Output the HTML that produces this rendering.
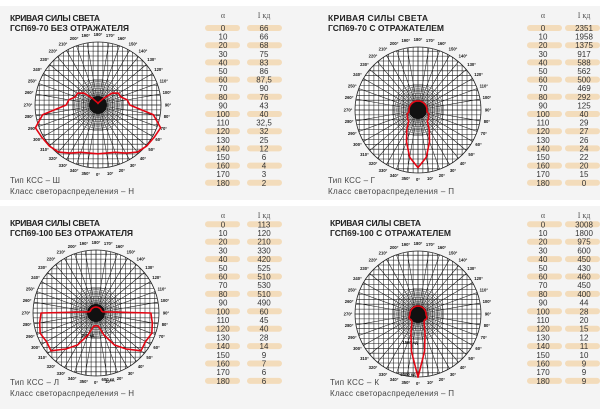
<!DOCTYPE html>
<html><head><meta charset="utf-8"><style>
html,body{margin:0;padding:0;background:#f4f4f4}
svg{display:block}
.t{font-family:"Liberation Sans",sans-serif;font-size:8.5px;fill:#222;font-weight:bold}
.f{font-family:"Liberation Sans",sans-serif;font-size:8px;fill:#444}
.n{font-family:"Liberation Sans",sans-serif;font-size:8px;fill:#333;text-anchor:middle}
.h{font-family:"Liberation Serif",serif;font-size:8px;fill:#555;text-anchor:middle}
.d{font-family:"Liberation Sans",sans-serif;font-size:4.2px;fill:#111;text-anchor:middle;font-weight:bold}
</style></head><body>
<svg id="s" width="600" height="409" viewBox="0 0 600 409" xmlns="http://www.w3.org/2000/svg">
<rect x="0" y="0" width="600" height="409" fill="#f4f4f4"/>
<rect x="0" y="0" width="600" height="6" fill="#fff"/>
<rect x="0" y="200" width="600" height="6" fill="#fff"/>
<g id="bars"></g>
<g id="grids"></g>

<!-- titles -->
<text class="t" x="10" y="21" textLength="90">КРИВАЯ СИЛЫ СВЕТА</text>
<text class="t" x="10" y="31" textLength="119">ГСП69-70 БЕЗ ОТРАЖАТЕЛЯ</text>
<text class="f" x="10" y="183" textLength="50">Тип КСС – Ш</text>
<text class="f" x="10" y="194" textLength="124">Класс светораспределения – Н</text>

<text class="t" x="328" y="21" textLength="100">КРИВАЯ СИЛЫ СВЕТА</text>
<text class="t" x="328" y="31" textLength="116">ГСП69-70 С ОТРАЖАТЕЛЕМ</text>
<text class="f" x="328" y="183" textLength="47">Тип КСС – Г</text>
<text class="f" x="328" y="194" textLength="126">Класс светораспределения – П</text>

<text class="t" x="10" y="226" textLength="90">КРИВАЯ СИЛЫ СВЕТА</text>
<text class="t" x="10" y="236" textLength="123">ГСП69-100 БЕЗ ОТРАЖАТЕЛЯ</text>
<text class="f" x="10" y="385" textLength="49">Тип КСС – Л</text>
<text class="f" x="10" y="396" textLength="124">Класс светораспределения – Н</text>

<text class="t" x="330" y="226" textLength="91">КРИВАЯ СИЛЫ СВЕТА</text>
<text class="t" x="330" y="236" textLength="121">ГСП69-100 С ОТРАЖАТЕЛЕМ</text>
<text class="f" x="330" y="385" textLength="49">Тип КСС – К</text>
<text class="f" x="330" y="396" textLength="124">Класс светораспределения – П</text>

<!-- degree labels (same relative layout for each chart) -->
<g transform="translate(98,105)">
<text class="d" x="0" y="71">0°</text><text class="d" x="12.2" y="70">10°</text><text class="d" x="23.9" y="67">20°</text><text class="d" x="35" y="62">30°</text><text class="d" x="45" y="55">40°</text><text class="d" x="53.6" y="46">50°</text><text class="d" x="60.6" y="36">60°</text><text class="d" x="65.8" y="25">70°</text><text class="d" x="68.9" y="13">80°</text><text class="d" x="70" y="1.5">90°</text><text class="d" x="68.9" y="-11">100°</text><text class="d" x="65.8" y="-22.5">110°</text><text class="d" x="60.6" y="-34">120°</text><text class="d" x="53.6" y="-44">130°</text><text class="d" x="45" y="-52.5">140°</text><text class="d" x="35" y="-59.5">150°</text><text class="d" x="23.9" y="-65">160°</text><text class="d" x="12.2" y="-68">170°</text><text class="d" x="0" y="-69">180°</text><text class="d" x="-12.2" y="-68">190°</text><text class="d" x="-23.9" y="-65">200°</text><text class="d" x="-35" y="-59.5">210°</text><text class="d" x="-45" y="-52.5">220°</text><text class="d" x="-53.6" y="-44">230°</text><text class="d" x="-60.6" y="-34">240°</text><text class="d" x="-65.8" y="-22.5">250°</text><text class="d" x="-68.9" y="-11">260°</text><text class="d" x="-70" y="1.5">270°</text><text class="d" x="-68.9" y="13">280°</text><text class="d" x="-65.8" y="25">290°</text><text class="d" x="-60.6" y="36">300°</text><text class="d" x="-53.6" y="46">310°</text><text class="d" x="-45" y="55">320°</text><text class="d" x="-35" y="62">330°</text><text class="d" x="-23.9" y="67">340°</text><text class="d" x="-12.2" y="70">350°</text>
</g>
<g transform="translate(418,110)">
<text class="d" x="0" y="71">0°</text><text class="d" x="12.2" y="70">10°</text><text class="d" x="23.9" y="67">20°</text><text class="d" x="35" y="62">30°</text><text class="d" x="45" y="55">40°</text><text class="d" x="53.6" y="46">50°</text><text class="d" x="60.6" y="36">60°</text><text class="d" x="65.8" y="25">70°</text><text class="d" x="68.9" y="13">80°</text><text class="d" x="70" y="1.5">90°</text><text class="d" x="68.9" y="-11">100°</text><text class="d" x="65.8" y="-22.5">110°</text><text class="d" x="60.6" y="-34">120°</text><text class="d" x="53.6" y="-44">130°</text><text class="d" x="45" y="-52.5">140°</text><text class="d" x="35" y="-59.5">150°</text><text class="d" x="23.9" y="-65">160°</text><text class="d" x="12.2" y="-68">170°</text><text class="d" x="0" y="-69">180°</text><text class="d" x="-12.2" y="-68">190°</text><text class="d" x="-23.9" y="-65">200°</text><text class="d" x="-35" y="-59.5">210°</text><text class="d" x="-45" y="-52.5">220°</text><text class="d" x="-53.6" y="-44">230°</text><text class="d" x="-60.6" y="-34">240°</text><text class="d" x="-65.8" y="-22.5">250°</text><text class="d" x="-68.9" y="-11">260°</text><text class="d" x="-70" y="1.5">270°</text><text class="d" x="-68.9" y="13">280°</text><text class="d" x="-65.8" y="25">290°</text><text class="d" x="-60.6" y="36">300°</text><text class="d" x="-53.6" y="46">310°</text><text class="d" x="-45" y="55">320°</text><text class="d" x="-35" y="62">330°</text><text class="d" x="-23.9" y="67">340°</text><text class="d" x="-12.2" y="70">350°</text>
</g>
<g transform="translate(96,313)">
<text class="d" x="0" y="71">0°</text><text class="d" x="12.2" y="70">10°</text><text class="d" x="23.9" y="67">20°</text><text class="d" x="35" y="62">30°</text><text class="d" x="45" y="55">40°</text><text class="d" x="53.6" y="46">50°</text><text class="d" x="60.6" y="36">60°</text><text class="d" x="65.8" y="25">70°</text><text class="d" x="68.9" y="13">80°</text><text class="d" x="70" y="1.5">90°</text><text class="d" x="68.9" y="-11">100°</text><text class="d" x="65.8" y="-22.5">110°</text><text class="d" x="60.6" y="-34">120°</text><text class="d" x="53.6" y="-44">130°</text><text class="d" x="45" y="-52.5">140°</text><text class="d" x="35" y="-59.5">150°</text><text class="d" x="23.9" y="-65">160°</text><text class="d" x="12.2" y="-68">170°</text><text class="d" x="0" y="-69">180°</text><text class="d" x="-12.2" y="-68">190°</text><text class="d" x="-23.9" y="-65">200°</text><text class="d" x="-35" y="-59.5">210°</text><text class="d" x="-45" y="-52.5">220°</text><text class="d" x="-53.6" y="-44">230°</text><text class="d" x="-60.6" y="-34">240°</text><text class="d" x="-65.8" y="-22.5">250°</text><text class="d" x="-68.9" y="-11">260°</text><text class="d" x="-70" y="1.5">270°</text><text class="d" x="-68.9" y="13">280°</text><text class="d" x="-65.8" y="25">290°</text><text class="d" x="-60.6" y="36">300°</text><text class="d" x="-53.6" y="46">310°</text><text class="d" x="-45" y="55">320°</text><text class="d" x="-35" y="62">330°</text><text class="d" x="-23.9" y="67">340°</text><text class="d" x="-12.2" y="70">350°</text>
<text class="d" x="-8" y="24">300 кд</text><text class="d" x="12" y="68">600 кд</text>
</g>
<g transform="translate(418,314)">
<text class="d" x="0" y="71">0°</text><text class="d" x="12.2" y="70">10°</text><text class="d" x="23.9" y="67">20°</text><text class="d" x="35" y="62">30°</text><text class="d" x="45" y="55">40°</text><text class="d" x="53.6" y="46">50°</text><text class="d" x="60.6" y="36">60°</text><text class="d" x="65.8" y="25">70°</text><text class="d" x="68.9" y="13">80°</text><text class="d" x="70" y="1.5">90°</text><text class="d" x="68.9" y="-11">100°</text><text class="d" x="65.8" y="-22.5">110°</text><text class="d" x="60.6" y="-34">120°</text><text class="d" x="53.6" y="-44">130°</text><text class="d" x="45" y="-52.5">140°</text><text class="d" x="35" y="-59.5">150°</text><text class="d" x="23.9" y="-65">160°</text><text class="d" x="12.2" y="-68">170°</text><text class="d" x="0" y="-69">180°</text><text class="d" x="-12.2" y="-68">190°</text><text class="d" x="-23.9" y="-65">200°</text><text class="d" x="-35" y="-59.5">210°</text><text class="d" x="-45" y="-52.5">220°</text><text class="d" x="-53.6" y="-44">230°</text><text class="d" x="-60.6" y="-34">240°</text><text class="d" x="-65.8" y="-22.5">250°</text><text class="d" x="-68.9" y="-11">260°</text><text class="d" x="-70" y="1.5">270°</text><text class="d" x="-68.9" y="13">280°</text><text class="d" x="-65.8" y="25">290°</text><text class="d" x="-60.6" y="36">300°</text><text class="d" x="-53.6" y="46">310°</text><text class="d" x="-45" y="55">320°</text><text class="d" x="-35" y="62">330°</text><text class="d" x="-23.9" y="67">340°</text><text class="d" x="-12.2" y="70">350°</text>
<text class="d" x="-8" y="30">1500 кд</text><text class="d" x="-10" y="62">2000 кд</text>
</g>

<!-- tables -->
<g>
<text class="h" x="223" y="18">α</text><text class="h" x="264" y="18">I кд</text>
<text class="n" x="223" y="31">0</text><text class="n" x="264" y="31">66</text>
<text class="n" x="223" y="39.6">10</text><text class="n" x="264" y="39.6">66</text>
<text class="n" x="223" y="48.2">20</text><text class="n" x="264" y="48.2">68</text>
<text class="n" x="223" y="56.8">30</text><text class="n" x="264" y="56.8">75</text>
<text class="n" x="223" y="65.4">40</text><text class="n" x="264" y="65.4">83</text>
<text class="n" x="223" y="74">50</text><text class="n" x="264" y="74">86</text>
<text class="n" x="223" y="82.6">60</text><text class="n" x="264" y="82.6">87,5</text>
<text class="n" x="223" y="91.2">70</text><text class="n" x="264" y="91.2">90</text>
<text class="n" x="223" y="99.8">80</text><text class="n" x="264" y="99.8">76</text>
<text class="n" x="223" y="108.4">90</text><text class="n" x="264" y="108.4">43</text>
<text class="n" x="223" y="117">100</text><text class="n" x="264" y="117">40</text>
<text class="n" x="223" y="125.6">110</text><text class="n" x="264" y="125.6">32,5</text>
<text class="n" x="223" y="134.2">120</text><text class="n" x="264" y="134.2">32</text>
<text class="n" x="223" y="142.8">130</text><text class="n" x="264" y="142.8">25</text>
<text class="n" x="223" y="151.4">140</text><text class="n" x="264" y="151.4">12</text>
<text class="n" x="223" y="160">150</text><text class="n" x="264" y="160">6</text>
<text class="n" x="223" y="168.6">160</text><text class="n" x="264" y="168.6">4</text>
<text class="n" x="223" y="177.2">170</text><text class="n" x="264" y="177.2">3</text>
<text class="n" x="223" y="185.8">180</text><text class="n" x="264" y="185.8">2</text>
</g>
<g>
<text class="h" x="543" y="18">α</text><text class="h" x="584" y="18">I кд</text>
<text class="n" x="543" y="31">0</text><text class="n" x="584" y="31">2351</text>
<text class="n" x="543" y="39.6">10</text><text class="n" x="584" y="39.6">1958</text>
<text class="n" x="543" y="48.2">20</text><text class="n" x="584" y="48.2">1375</text>
<text class="n" x="543" y="56.8">30</text><text class="n" x="584" y="56.8">917</text>
<text class="n" x="543" y="65.4">40</text><text class="n" x="584" y="65.4">588</text>
<text class="n" x="543" y="74">50</text><text class="n" x="584" y="74">562</text>
<text class="n" x="543" y="82.6">60</text><text class="n" x="584" y="82.6">500</text>
<text class="n" x="543" y="91.2">70</text><text class="n" x="584" y="91.2">469</text>
<text class="n" x="543" y="99.8">80</text><text class="n" x="584" y="99.8">292</text>
<text class="n" x="543" y="108.4">90</text><text class="n" x="584" y="108.4">125</text>
<text class="n" x="543" y="117">100</text><text class="n" x="584" y="117">40</text>
<text class="n" x="543" y="125.6">110</text><text class="n" x="584" y="125.6">29</text>
<text class="n" x="543" y="134.2">120</text><text class="n" x="584" y="134.2">27</text>
<text class="n" x="543" y="142.8">130</text><text class="n" x="584" y="142.8">26</text>
<text class="n" x="543" y="151.4">140</text><text class="n" x="584" y="151.4">24</text>
<text class="n" x="543" y="160">150</text><text class="n" x="584" y="160">22</text>
<text class="n" x="543" y="168.6">160</text><text class="n" x="584" y="168.6">20</text>
<text class="n" x="543" y="177.2">170</text><text class="n" x="584" y="177.2">15</text>
<text class="n" x="543" y="185.8">180</text><text class="n" x="584" y="185.8">0</text>
</g>
<g>
<text class="h" x="223" y="218">α</text><text class="h" x="264" y="218">I кд</text>
<text class="n" x="223" y="227.3">0</text><text class="n" x="264" y="227.3">113</text>
<text class="n" x="223" y="236">10</text><text class="n" x="264" y="236">120</text>
<text class="n" x="223" y="244.7">20</text><text class="n" x="264" y="244.7">210</text>
<text class="n" x="223" y="253.4">30</text><text class="n" x="264" y="253.4">330</text>
<text class="n" x="223" y="262.1">40</text><text class="n" x="264" y="262.1">420</text>
<text class="n" x="223" y="270.8">50</text><text class="n" x="264" y="270.8">525</text>
<text class="n" x="223" y="279.5">60</text><text class="n" x="264" y="279.5">510</text>
<text class="n" x="223" y="288.2">70</text><text class="n" x="264" y="288.2">530</text>
<text class="n" x="223" y="296.9">80</text><text class="n" x="264" y="296.9">510</text>
<text class="n" x="223" y="305.6">90</text><text class="n" x="264" y="305.6">490</text>
<text class="n" x="223" y="314.3">100</text><text class="n" x="264" y="314.3">60</text>
<text class="n" x="223" y="323">110</text><text class="n" x="264" y="323">45</text>
<text class="n" x="223" y="331.7">120</text><text class="n" x="264" y="331.7">40</text>
<text class="n" x="223" y="340.4">130</text><text class="n" x="264" y="340.4">28</text>
<text class="n" x="223" y="349.1">140</text><text class="n" x="264" y="349.1">14</text>
<text class="n" x="223" y="357.8">150</text><text class="n" x="264" y="357.8">9</text>
<text class="n" x="223" y="366.5">160</text><text class="n" x="264" y="366.5">7</text>
<text class="n" x="223" y="375.2">170</text><text class="n" x="264" y="375.2">6</text>
<text class="n" x="223" y="383.9">180</text><text class="n" x="264" y="383.9">6</text>
</g>
<g>
<text class="h" x="543" y="218">α</text><text class="h" x="584" y="218">I кд</text>
<text class="n" x="543" y="227.3">0</text><text class="n" x="584" y="227.3">3008</text>
<text class="n" x="543" y="236">10</text><text class="n" x="584" y="236">1800</text>
<text class="n" x="543" y="244.7">20</text><text class="n" x="584" y="244.7">975</text>
<text class="n" x="543" y="253.4">30</text><text class="n" x="584" y="253.4">600</text>
<text class="n" x="543" y="262.1">40</text><text class="n" x="584" y="262.1">450</text>
<text class="n" x="543" y="270.8">50</text><text class="n" x="584" y="270.8">430</text>
<text class="n" x="543" y="279.5">60</text><text class="n" x="584" y="279.5">460</text>
<text class="n" x="543" y="288.2">70</text><text class="n" x="584" y="288.2">450</text>
<text class="n" x="543" y="296.9">80</text><text class="n" x="584" y="296.9">400</text>
<text class="n" x="543" y="305.6">90</text><text class="n" x="584" y="305.6">44</text>
<text class="n" x="543" y="314.3">100</text><text class="n" x="584" y="314.3">28</text>
<text class="n" x="543" y="323">110</text><text class="n" x="584" y="323">20</text>
<text class="n" x="543" y="331.7">120</text><text class="n" x="584" y="331.7">15</text>
<text class="n" x="543" y="340.4">130</text><text class="n" x="584" y="340.4">12</text>
<text class="n" x="543" y="349.1">140</text><text class="n" x="584" y="349.1">11</text>
<text class="n" x="543" y="357.8">150</text><text class="n" x="584" y="357.8">10</text>
<text class="n" x="543" y="366.5">160</text><text class="n" x="584" y="366.5">9</text>
<text class="n" x="543" y="375.2">170</text><text class="n" x="584" y="375.2">9</text>
<text class="n" x="543" y="383.9">180</text><text class="n" x="584" y="383.9">9</text>
</g>
<g id="curves"></g>
</svg>
<script>
var NS="http://www.w3.org/2000/svg";
function el(t,a,p){var e=document.createElementNS(NS,t);for(var k in a)e.setAttribute(k,a[k]);p.appendChild(e);return e;}
var bars=document.getElementById('bars');
// table highlight bars
[[205,247,28,8.6],[527,565,28,8.6],[205,247,224.3,8.7],[527,565,224.3,8.7]].forEach(function(t){
 for(var i=0;i<19;i+=2){var y=t[2]+i*t[3]-3;
  el('rect',{x:t[0],y:y,width:35,height:6,rx:3,fill:'#f3dcbb'},bars);
  el('rect',{x:t[1],y:y,width:35,height:6,rx:3,fill:'#f3dcbb'},bars);}
});
var grids=document.getElementById('grids'),curves=document.getElementById('curves');
var P=[
 {cx:98,cy:105,s:0.74,d:[66,66,68,75,83,86,87.5,90,76,43,40,32.5,32,25,12,6,4,3,2]},
 {cx:418,cy:110,s:0.0245,d:[2351,1958,1375,917,588,562,500,469,292,125,40,29,27,26,24,22,20,15,0],min:9},
 {cx:96,cy:313,s:0.112,d:[113,120,210,330,420,525,510,530,510,490,60,45,40,28,14,9,7,6,6],min:6},
 {cx:418,cy:314,s:0.021,d:[3008,1800,975,600,450,430,460,450,400,44,28,20,15,12,11,10,9,9,9],min:8}
];
var R=63;
P.forEach(function(p,idx){
 var g=el('g',{},grids);
 var cp=el('clipPath',{id:'c'+idx},g);el('circle',{cx:p.cx,cy:p.cy,r:R},cp);
 var gg=el('g',{'clip-path':'url(#c'+idx+')',stroke:'#1a1a1a','stroke-width':'0.55',fill:'none'},g);
 el('circle',{cx:p.cx,cy:p.cy,r:R,fill:'#fff',stroke:'none'},gg);
 for(var k=-13;k<=13;k++){var o=k*4.9;
  el('line',{x1:p.cx+o,y1:p.cy-R,x2:p.cx+o,y2:p.cy+R},gg);
  el('line',{x1:p.cx-R,y1:p.cy+o,x2:p.cx+R,y2:p.cy+o},gg);}
 for(var a=0;a<360;a+=10){var r=a*Math.PI/180;
  el('line',{x1:p.cx,y1:p.cy,x2:p.cx+R*Math.sin(r),y2:p.cy+R*Math.cos(r)},gg);}
 for(var a=5;a<360;a+=10){var r=a*Math.PI/180;
  el('line',{x1:p.cx,y1:p.cy,x2:p.cx+24*Math.sin(r),y2:p.cy+24*Math.cos(r),stroke:'#555','stroke-width':'0.4'},gg);}
 for(var rr=8;rr<=26;rr+=2.2) el('circle',{cx:p.cx,cy:p.cy,r:rr,stroke:'#444','stroke-width':'0.45'},gg);
 el('circle',{cx:p.cx,cy:p.cy,r:R,stroke:'#222','stroke-width':'0.8',fill:'none'},g);
 el('circle',{cx:p.cx,cy:p.cy,r:9,fill:'#111'},g);
 // curve
 var pts=[];
 for(var i=0;i<=18;i++){var r=i*10*Math.PI/180,v=Math.max(p.d[i]*p.s,p.min||0);pts.push([p.cx+v*Math.sin(r),p.cy+v*Math.cos(r)]);}
 for(var i=17;i>=1;i--){var r=i*10*Math.PI/180,v=Math.max(p.d[i]*p.s,p.min||0);pts.push([p.cx-v*Math.sin(r),p.cy+v*Math.cos(r)]);}
 var dstr='M'+pts.map(function(q){return q[0].toFixed(1)+','+q[1].toFixed(1)}).join(' L')+' Z';
 el('path',{d:dstr,fill:'none',stroke:'#e30613','stroke-width':'1.6','stroke-linejoin':'round'},curves);
});
</script>
</body></html>
